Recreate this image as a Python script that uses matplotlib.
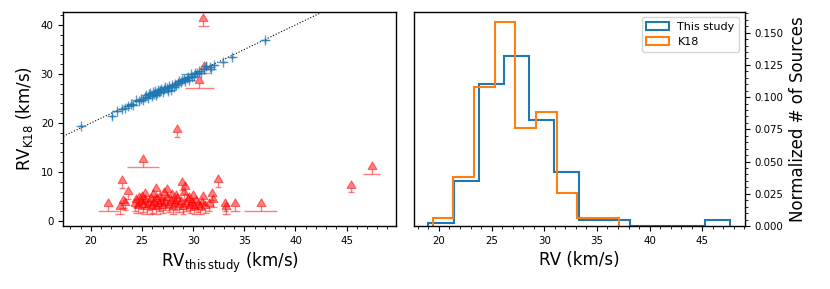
import numpy as np
import matplotlib.pyplot as plt
from matplotlib.ticker import AutoMinorLocator, MultipleLocator

# sources with RVs in both catalogues (this study vs K18)
both_x = [19.0, 22.1, 22.5, 23.0, 23.3, 23.6, 23.9, 24.1, 24.4, 24.7, 24.9, 25.1,
          25.3, 25.4, 25.6, 25.7, 25.8, 26.0, 26.1, 26.2, 26.3, 26.4, 26.5, 26.6,
          26.7, 26.8, 26.9, 27.0, 27.1, 27.2, 27.4, 27.5, 27.6, 27.8, 27.9, 28.1,
          28.2, 28.3, 28.5, 28.6, 28.8, 28.9, 29.1, 29.2, 29.4, 29.5, 29.6, 29.8,
          29.9, 30.1, 30.2, 30.4, 30.6, 30.8, 31.1, 31.3, 31.6, 31.7, 32.0, 32.9,
          33.8, 37.0]
both_y = [19.4, 21.4, 22.4, 22.8, 23.1, 23.4, 23.8, 23.7, 24.6, 24.4, 24.9, 24.6,
          25.3, 25.7, 25.2, 25.9, 26.1, 25.5, 26.3, 25.9, 26.6, 25.7, 26.2, 26.8,
          26.4, 26.6, 27.0, 26.3, 26.9, 27.3, 27.1, 26.6, 27.5, 26.8, 27.7, 27.4,
          28.0, 27.7, 28.2, 28.5, 28.3, 28.7, 28.9, 28.6, 29.1, 29.4, 28.8, 29.9,
          29.3, 29.6, 30.3, 30.1, 30.6, 30.3, 31.0, 31.7, 31.5, 31.0, 31.9, 32.5,
          33.4, 36.9]
both_xerr = [0.3, 0.3, 0.4, 0.3, 0.2, 0.5, 0.3, 0.4, 0.2, 0.5, 0.3, 0.2,
             0.4, 0.3, 0.3, 0.5, 0.2, 0.3, 0.4, 0.3, 0.2, 0.5, 0.3, 0.3,
             0.6, 0.2, 0.4, 0.3, 0.3, 0.5, 0.3, 0.4, 0.2, 0.3, 0.3, 0.4,
             0.3, 0.2, 0.5, 0.3, 0.3, 0.4, 0.3, 0.2, 0.3, 0.4, 0.6, 1.0,
             0.3, 0.3, 0.4, 0.3, 0.5, 0.3, 0.3, 0.3, 0.4, 0.3, 0.3, 0.3,
             0.3, 0.4]
both_yerr = [0.3, 0.6, 0.3, 0.3, 0.2, 0.5, 0.4, 0.3, 0.3, 0.6, 0.3, 0.4,
             0.3, 0.5, 0.3, 0.4, 0.3, 0.6, 0.3, 0.3, 0.4, 0.5, 0.3, 0.3,
             0.4, 0.3, 0.5, 0.3, 0.4, 0.3, 0.3, 0.6, 0.3, 0.3, 0.4, 0.3,
             0.3, 0.5, 0.3, 0.3, 0.4, 0.3, 0.3, 0.5, 0.3, 0.3, 0.4, 0.4,
             0.3, 0.3, 0.4, 0.3, 0.3, 0.4, 0.3, 0.8, 0.3, 0.3, 0.3, 0.3,
             0.4, 0.5]

# K18 lower limits
lim_x = [31.0, 31.1, 30.6, 28.4, 25.1, 23.0, 32.4, 28.9, 29.2, 23.65, 26.4, 27.4,
         25.3, 27.1, 30.0, 31.8, 31.0, 31.9, 24.7, 21.7, 23.1, 23.3, 22.8, 33.1,
         33.2, 34.1, 36.6, 45.4, 47.45,
         24.3, 24.6, 24.9, 25.1, 25.3, 25.5, 25.7, 25.9, 26.0, 26.2, 26.4, 26.5,
         26.7, 26.9, 27.0, 27.2, 27.4, 27.6, 27.8, 28.0, 28.2, 28.4, 28.6, 28.8,
         29.0, 29.3, 29.5, 29.7, 29.9, 30.1, 30.3, 30.5, 30.7, 30.9, 31.2, 31.5,
         25.0, 26.8, 28.3, 29.6, 24.4, 27.9, 29.1, 26.1]
lim_y = [39.8, 30.1, 27.1, 17.2, 11.1, 6.7, 7.0, 6.3, 5.5, 4.6, 5.2, 5.0,
         4.1, 4.3, 3.8, 4.2, 3.6, 2.9, 3.3, 2.1, 2.6, 2.2, 1.5, 2.1,
         1.4, 2.1, 2.1, 5.85, 9.7,
         2.0, 1.6, 2.4, 1.8, 2.8, 1.5, 2.2, 3.0, 1.7, 2.5, 1.4, 3.1,
         2.0, 2.7, 1.6, 2.3, 3.2, 1.8, 2.6, 1.5, 2.2, 3.0, 1.8, 2.5,
         1.5, 2.0, 2.8, 1.6, 2.3, 1.5, 2.7, 1.9, 1.5, 2.3, 1.6, 2.0,
         3.6, 3.5, 3.7, 3.4, 2.9, 4.0, 4.4, 3.9]
lim_xerr = [0.5, 0.5, 1.45, 0.3, 1.6, 0.3, 0.3, 0.3, 0.3, 0.3, 0.3, 0.3,
            0.3, 0.3, 0.3, 0.3, 0.3, 0.4, 0.3, 1.0, 0.4, 0.3, 0.4, 0.3,
            0.4, 0.5, 1.6, 0.3, 0.8,
            0.3, 0.5, 0.3, 0.4, 0.3, 0.6, 0.3, 0.4, 0.3, 0.3, 0.5, 0.3,
            0.3, 0.4, 0.3, 0.6, 0.3, 0.3, 0.3, 0.4, 0.3, 0.3, 0.5, 0.3,
            0.3, 0.4, 0.3, 0.3, 0.5, 0.3, 0.3, 0.3, 0.4, 0.3, 0.3, 0.3,
            0.3, 0.3, 0.3, 0.3, 0.3, 0.3, 0.3, 0.3]

# normalised histograms
study_edges = [19.0, 21.39, 23.78, 26.17, 28.56, 30.95, 33.34, 35.73, 38.12,
               40.51, 42.90, 45.29, 47.68]
study_vals = [0.0023, 0.0349, 0.1099, 0.1318, 0.0822, 0.0419, 0.0049, 0.0049,
              0.0, 0.0, 0.0, 0.0049]
k18_edges = [19.40, 21.36, 23.32, 25.29, 27.25, 29.21, 31.17, 33.13, 35.10, 37.06]
k18_vals = [0.0065, 0.0383, 0.1075, 0.158, 0.0763, 0.0884, 0.0259, 0.0065, 0.0065]

plt.rcParams['font.family'] = 'DejaVu Sans'
tick_fs = 7.4
lab_fs = 12

fig = plt.figure(figsize=(8.3, 2.89), dpi=100)
ax1 = fig.add_axes([0.0763, 0.218, 0.4004, 0.7415])
ax2 = fig.add_axes([0.4984, 0.218, 0.3988, 0.7415])

# left panel
ax1.axline((20, 20), slope=1, color='k', ls=':', lw=0.8, zorder=1)
ax1.errorbar(both_x, both_y, xerr=both_xerr, yerr=both_yerr, fmt='+', color='C0',
             ms=7, mew=1, elinewidth=1, alpha=0.7, zorder=3)

lim_x = np.array(lim_x)
lim_y = np.array(lim_y)
stem = 1.0
ax1.errorbar(lim_x, lim_y, xerr=lim_xerr, yerr=[np.zeros_like(lim_y), np.full_like(lim_y, stem)],
             fmt='none', ecolor='r', elinewidth=1, alpha=0.5, zorder=2)
tri = [(-1, 0), (1, 0), (0, 1.7), (-1, 0)]
ax1.plot(lim_x, lim_y + stem, ls='none', marker=tri, ms=11, color='r',
         mec='r', mew=0.8, alpha=0.5, zorder=2)

ax1.set_xlim(17.3, 49.8)
ax1.set_ylim(-1.0, 42.7)
ax1.set_xlabel(r'RV$_{\rm this\,study}$ (km/s)', fontsize=lab_fs)
ax1.set_ylabel(r'RV$_{\rm K18}$ (km/s)', fontsize=lab_fs)
ax1.xaxis.set_major_locator(MultipleLocator(5))
ax1.yaxis.set_major_locator(MultipleLocator(10))
ax1.xaxis.set_minor_locator(AutoMinorLocator(5))
ax1.yaxis.set_minor_locator(AutoMinorLocator(5))
ax1.tick_params(which='both', labelsize=tick_fs)

# right panel
ax2.hist(study_edges[:-1], bins=study_edges, weights=study_vals, histtype='step',
         color='C0', lw=1.5, label='This study')
ax2.hist(k18_edges[:-1], bins=k18_edges, weights=k18_vals, histtype='step',
         color='C1', lw=1.5, label='K18')
ax2.set_xlim(17.6, 49.03)
ax2.set_ylim(0, 0.1663)
ax2.yaxis.tick_right()
ax2.yaxis.set_label_position('right')
ax2.set_xlabel('RV (km/s)', fontsize=lab_fs)
ax2.set_ylabel('Normalized # of Sources', fontsize=lab_fs)
ax2.xaxis.set_major_locator(MultipleLocator(5))
ax2.yaxis.set_major_locator(MultipleLocator(0.025))
ax2.xaxis.set_minor_locator(AutoMinorLocator(5))
ax2.yaxis.set_minor_locator(AutoMinorLocator(5))
ax2.tick_params(which='both', labelsize=tick_fs)
ax2.legend(loc='upper right', fontsize=8)

for ax in (ax1, ax2):
    for sp in ax.spines.values():
        sp.set_linewidth(1.0)

fig.savefig('out.png', dpi=100)
